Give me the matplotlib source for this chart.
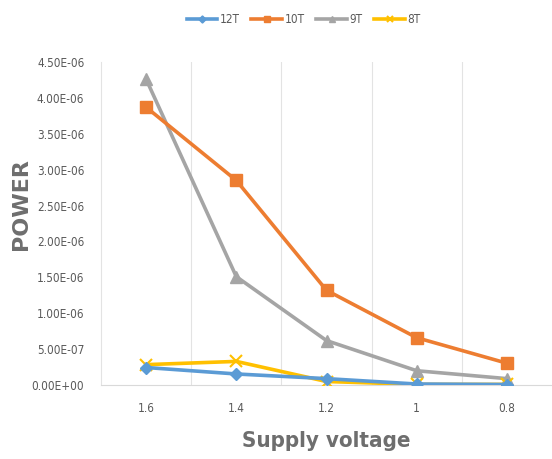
import matplotlib
matplotlib.use("Agg")
import matplotlib.pyplot as plt
from matplotlib.ticker import FixedLocator
from matplotlib import font_manager

voltages = ["1.6", "1.4", "1.2", "1", "0.8"]
p12T = [2.45e-7, 1.55e-7, 9.0e-8, 1.5e-8, 8e-9]
p10T = [3.87e-6, 2.85e-6, 1.32e-6, 6.6e-7, 3.05e-7]
p9T = [4.26e-6, 1.51e-6, 6.2e-7, 2.0e-7, 9.0e-8]
p8T = [2.85e-7, 3.3e-7, 5.0e-8, 1.0e-8, 1.0e-8]
yticks = [0, 5e-7, 1e-6, 1.5e-6, 2e-6, 2.5e-6, 3e-6, 3.5e-6, 4e-6, 4.5e-6]
ytick_labels = ["0.00E+00", "5.00E-07", "1.00E-06", "1.50E-06", "2.00E-06",
                "2.50E-06", "3.00E-06", "3.50E-06", "4.00E-06", "4.50E-06"]

cond = font_manager.FontProperties(family="DejaVu Sans", stretch="condensed", size=8.5)
cond_lab = font_manager.FontProperties(family="DejaVu Sans", stretch="condensed",
                                       weight="bold", size=16)
cond_leg = font_manager.FontProperties(family="DejaVu Sans", stretch="condensed", size=8.5)

fig = plt.figure(figsize=(5.52, 4.59), dpi=100)
ax = fig.add_axes([0.183, 0.161, 0.817, 0.704])
x = list(range(len(voltages)))

ax.plot(x, p12T, color="#5B9BD5", lw=2.6, marker="D", ms=6, label="12T", zorder=5)
ax.plot(x, p10T, color="#ED7D31", lw=2.6, marker="s", ms=8, label="10T", zorder=3)
ax.plot(x, p9T, color="#A5A5A5", lw=2.6, marker="^", ms=8, label="9T", zorder=2)
ax.plot(x, p8T, color="#FFC000", lw=2.6, marker="x", ms=8, mew=1.5, label="8T", zorder=4)

ax.set_xlim(-0.5, 4.5)
ax.set_ylim(0, 4.5e-6)
ax.set_xticks(x)
ax.set_xticklabels(voltages)
ax.set_yticks(yticks)
ax.set_yticklabels(ytick_labels)
ax.xaxis.set_minor_locator(FixedLocator([0.5, 1.5, 2.5, 3.5]))
ax.grid(which="minor", axis="x", color="#E3E3E3", lw=0.8)
ax.tick_params(axis="both", which="both", length=0)
ax.tick_params(axis="y", labelcolor="#595959", pad=12)
ax.tick_params(axis="x", labelcolor="#595959", pad=12)
for lab in ax.get_yticklabels() + ax.get_xticklabels():
    lab.set_fontproperties(cond)
for s in ["top", "right"]:
    ax.spines[s].set_visible(False)
ax.spines["left"].set_color("#E3E3E3")
ax.spines["left"].set_linewidth(0.8)
ax.spines["bottom"].set_color("#D9D9D9")

ax.set_xlabel("Supply voltage", fontproperties=cond_lab, color="#6E6E6E", labelpad=12)
ax.set_ylabel("POWER", fontsize=16, color="#6E6E6E", fontweight="bold")
ax.yaxis.set_label_coords(-0.155, 0.56)

fig.legend(loc="upper center", bbox_to_anchor=(0.55, 0.995), ncol=4, frameon=False,
           prop=cond_leg, labelcolor="#595959", handlelength=2.6,
           columnspacing=1.0, handletextpad=0.2, markerscale=0.6)

fig.savefig("out.png", dpi=100)
